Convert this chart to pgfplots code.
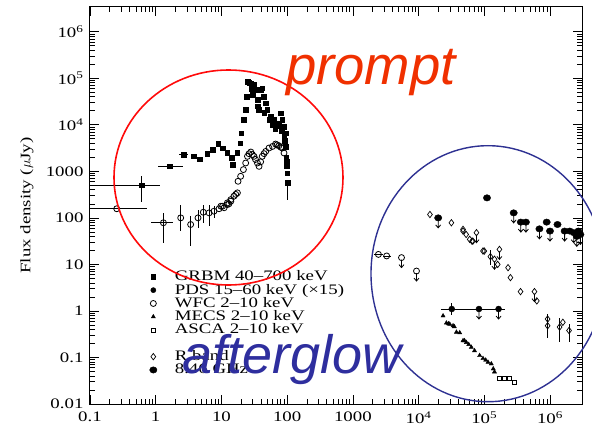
\documentclass[border=0pt]{standalone}
\usepackage{pgfplots}
\pgfplotsset{compat=1.18}
\usepackage{fontspec}
\setmainfont{Liberation Serif}[FakeStretch=1.3]
\newfontfamily\annfont{Liberation Sans}
\definecolor{promptred}{HTML}{F03000}
\definecolor{glowblue}{HTML}{2E2E9E}
\definecolor{circred}{HTML}{FF0A0A}
\definecolor{circblue}{HTML}{2E3192}
\pgfdeclareplotmark{uplim}{%
  \pgfpathmoveto{\pgfpoint{0bp}{-2bp}}\pgfpathlineto{\pgfpoint{0bp}{-10bp}}%
  \pgfpathmoveto{\pgfpoint{-2.5bp}{-7bp}}\pgfpathlineto{\pgfpoint{0bp}{-10bp}}\pgfpathlineto{\pgfpoint{2.5bp}{-7bp}}%
  \pgfusepathqstroke}
\pgfplotsset{
  grbm/.style={only marks, mark=square*, mark size=2.3bp, black},
  pds/.style={only marks, mark=*, mark size=2.6bp, black},
  wfc/.style={only marks, mark=o, mark size=3bp, black, mark options={line width=0.8bp}},
  mecs/.style={only marks, mark=triangle*, mark size=2.4bp, black},
  asca/.style={only marks, mark=square, mark size=2bp, black, mark options={line width=0.7bp}},
  rband/.style={only marks, mark=diamond, mark size=3.2bp, black, mark options={line width=0.7bp}},
  radio/.style={only marks, mark=*, mark size=3.2bp, black, mark options={xscale=1.15}},
  ul/.style={only marks, mark=uplim, black, mark options={line width=0.8bp}},
  errs/.style={error bars/x dir=both, error bars/y dir=both, error bars/x explicit, error bars/y explicit, error bars/error mark=none, error bars/error bar style={line width=0.8bp, black}},
}
\begin{document}
\begin{tikzpicture}[font=\fontsize{14.5bp}{16bp}\selectfont]
\begin{axis}[
  scale only axis, width=492bp, height=397bp,
  xmode=log, ymode=log,
  xmin=0.1, xmax=3.07e6, ymin=0.01, ymax=3.4e6,
  xtick={0.1,1,10,100,1000,1e4,1e5,1e6},
  xticklabels={0.1,1,10,100,1000,10\textsuperscript{4},10\textsuperscript{5},10\textsuperscript{6}},
  ytick={0.01,0.1,1,10,100,1000,1e4,1e5,1e6},
  yticklabels={0.01,0.1,1,10,100,1000,10\textsuperscript{4},10\textsuperscript{5},10\textsuperscript{6}},
  tick align=inside, major tick length=9bp, minor tick length=5bp,
  axis line style={line width=1bp},
  every tick/.style={black, line width=0.7bp},
  yticklabel style={xshift=-3bp},
  xticklabel style={yshift=-4bp},
  ylabel={Flux density ($\mu$Jy)},
  ylabel style={at={(axis description cs:-0.128,0.5)}, anchor=center},
  legend style={at={(axis description cs:0.108,0.3375)}, anchor=north west, draw=none, fill=none, inner sep=0pt, row sep=0pt,
    nodes={inner sep=0.5bp, text height=10bp, text depth=2.3bp}},
  legend cell align=left,
  legend image code/.code={\path[draw=none, fill=none] (0bp,-1bp) rectangle (31bp,1bp); \draw[mark repeat=2,mark phase=2,#1] plot coordinates {(0bp,0bp)(10bp,0bp)(20bp,0bp)};},
]
\addlegendimage{grbm}\addlegendentry{GRBM 40--700 keV}
\addlegendimage{pds}\addlegendentry{PDS 15--60 keV (×15)}
\addlegendimage{wfc}\addlegendentry{WFC 2--10 keV}
\addlegendimage{mecs}\addlegendentry{MECS 2--10 keV}
\addlegendimage{asca}\addlegendentry{ASCA 2--10 keV}
\addlegendimage{empty legend}\addlegendentry{}
\addlegendimage{rband}\addlegendentry{R band}
\addlegendimage{radio}\addlegendentry{8.46 GHz}

% GRBM prompt (filled squares)
\addplot[grbm, errs, forget plot] coordinates {
 (0.61,500) += (0.54,280) -= (0.51,286)
 (1.63,1280) += (0.97,0) -= (0.53,0)
 (2.64,2276) += (0.5,0) -= (0.4,0)
 (102,564) += (0,0) -= (0,319)
};
\addplot[grbm, forget plot] table {
x y
3.75 2100
4.7 1840
6.1 2390
7.3 2920
8.9 3920
10.4 3170
12.3 2480
14.2 1940
15 1390
17.5 2480
19.2 4050
20.1 6640
21.6 12800
23.4 21000
24.3 40400
24.9 84600
26.5 80000
27.9 77600
28.9 60000
30 45000
31.3 72000
33 56000
35.3 34300
36 25000
37 21000
39.6 56000
41.8 61000
44 40000
45 18000
47.2 29100
50 21000
53 13000
56 15100
60 10000
63 12800
66 8000
70 10900
75 9500
79 17800
82 7500
84 12800
88 9200
90 5500
92 4500
95 6600
95 3430
97 2000
98 1280
99 1600
100 920
};
% WFC / PDS open circles
\addplot[wfc, errs, forget plot] coordinates {
 (0.255,157) += (0.495,0) -= (0.155,0)
 (1.31,78.5) += (0.55,51.5) -= (0.47,49)
 (2.4,100) += (0,90) -= (0,48)
 (3.4,72) += (0,40) -= (0,47.4)
 (4.4,100) += (0,50) -= (0,40)
 (5.3,132) += (0,60) -= (0,55)
 (6.5,128) += (0,62) -= (0,60)
 (7.7,139) += (0,40) -= (0,40)
};
\addplot[wfc, forget plot] table {
x y
9.2 157
9.8 178
10.4 178
11 165
12.3 193
12.3 210
13 200
13.9 228
13.9 247
15.5 292
16.5 320
17.5 345
17.9 611
19.6 782
21.6 1090
23.4 1510
24.9 2100
26.3 2390
28 2600
29.5 2300
31.3 2100
33 1800
35.3 1510
37.4 1280
39.5 1600
41.8 2100
44.5 2400
47.2 2680
53 3170
60 3430
66.6 3860
70 3700
75 3550
80 3300
84.5 3170
89.6 2480
};
% WFC late upper limits (open circles)
\addplot[wfc, errs, forget plot] coordinates {
 (2450,16.4) += (400,0) -= (350,0)
 (3270,15.2) += (500,0) -= (400,0)
 (5500,14) (9300,7.2)
};
\addplot[ul, forget plot] coordinates {(5500,14) (9300,7.2)};
% R band (open diamonds)
\addplot[rband, errs, forget plot] coordinates {
 (9.2e5,0.67) += (0,0.2) -= (0,0.41)
 (1.4e6,0.45) += (0,0.27) -= (0,0.24)
 (1.95e6,0.38) += (0,0.14) -= (0,0.17)
 (1.24e5,14.7) += (0,6) -= (0,5)
};
\addplot[rband, forget plot] table {
x y
14900 118
31600 78.5
47500 56.5
47500 52
53000 44
60000 34.5
65000 31.6
67000 31.6
76000 48
95600 19.4
100000 19.4
143000 12.9
160000 10
170000 21
230000 8.5
250000 5.2
356000 2.6
580000 2.6
630000 1.64
920000 0.48
1570000 0.57
};
\addplot[ul, forget plot] coordinates {(76000,48) (170000,21) (580000,2.6) (143000,12.9)};
% 8.46 GHz (filled circles)
\addplot[radio, forget plot] table {
x y
110000 269
19900 100
280000 128
360000 81
430000 81
690000 58
890000 81
1000000 52
1300000 72
1670000 52
2000000 52
2300000 48
2700000 52
2900000 44
2560000 40
};
\addplot[ul, forget plot] coordinates {(19900,100) (280000,128) (360000,81) (430000,81) (690000,58) (1000000,52) (1670000,52) (2300000,48) (2900000,44) (2560000,40)};
\addplot[black, line width=0.9bp, forget plot] coordinates {(21800,1.1) (2.1e5,1.1)};
\addplot[pds, mark size=3bp, errs, forget plot] coordinates {
 (32000,1.1) += (0,0.35) -= (0,0.3)
 (83000,1.1) (1.65e5,1.1)
};
\addplot[ul, forget plot] coordinates {(83000,1.1) (1.65e5,1.1)};
% MECS (filled triangles)
\addplot[mecs, forget plot] table {
x y
23600 0.785
26500 0.55
28500 0.53
29800 0.52
33500 0.48
35000 0.46
37700 0.35
42300 0.34
47500 0.23
50000 0.23
53400 0.21
58000 0.19
63500 0.166
71000 0.14
85000 0.11
95600 0.095
105000 0.088
114000 0.079
128000 0.073
137000 0.057
143000 0.049
};
% ASCA (open squares)
\addplot[asca, forget plot] table {
x y
170000 0.036
200000 0.036
240000 0.035
290000 0.029
};
\end{axis}
\draw[circred, line width=1.6bp] ([shift={(138.5bp,226.5bp)}]current axis.south west) ellipse [x radius=114.5bp, y radius=107.5bp];
\draw[circblue, line width=1.4bp] ([shift={(398bp,130.3bp)}]current axis.south west) ellipse [x radius=117bp, y radius=128bp];
\node[anchor=base west, inner sep=0pt, text=promptred, font=\annfont\itshape\fontsize{54.5bp}{60bp}\selectfont] at ([shift={(196bp,319bp)}]current axis.south west) {prompt};
\node[anchor=base west, inner sep=0pt, text=glowblue, font=\annfont\itshape\fontsize{54bp}{60bp}\selectfont] at ([shift={(92bp,31bp)}]current axis.south west) {afterglow};
\pgfresetboundingbox
\path ([shift={(-90bp,-21bp)}]current axis.south west) rectangle ([shift={(10bp,7bp)}]current axis.north east);
\end{tikzpicture}
\end{document}
